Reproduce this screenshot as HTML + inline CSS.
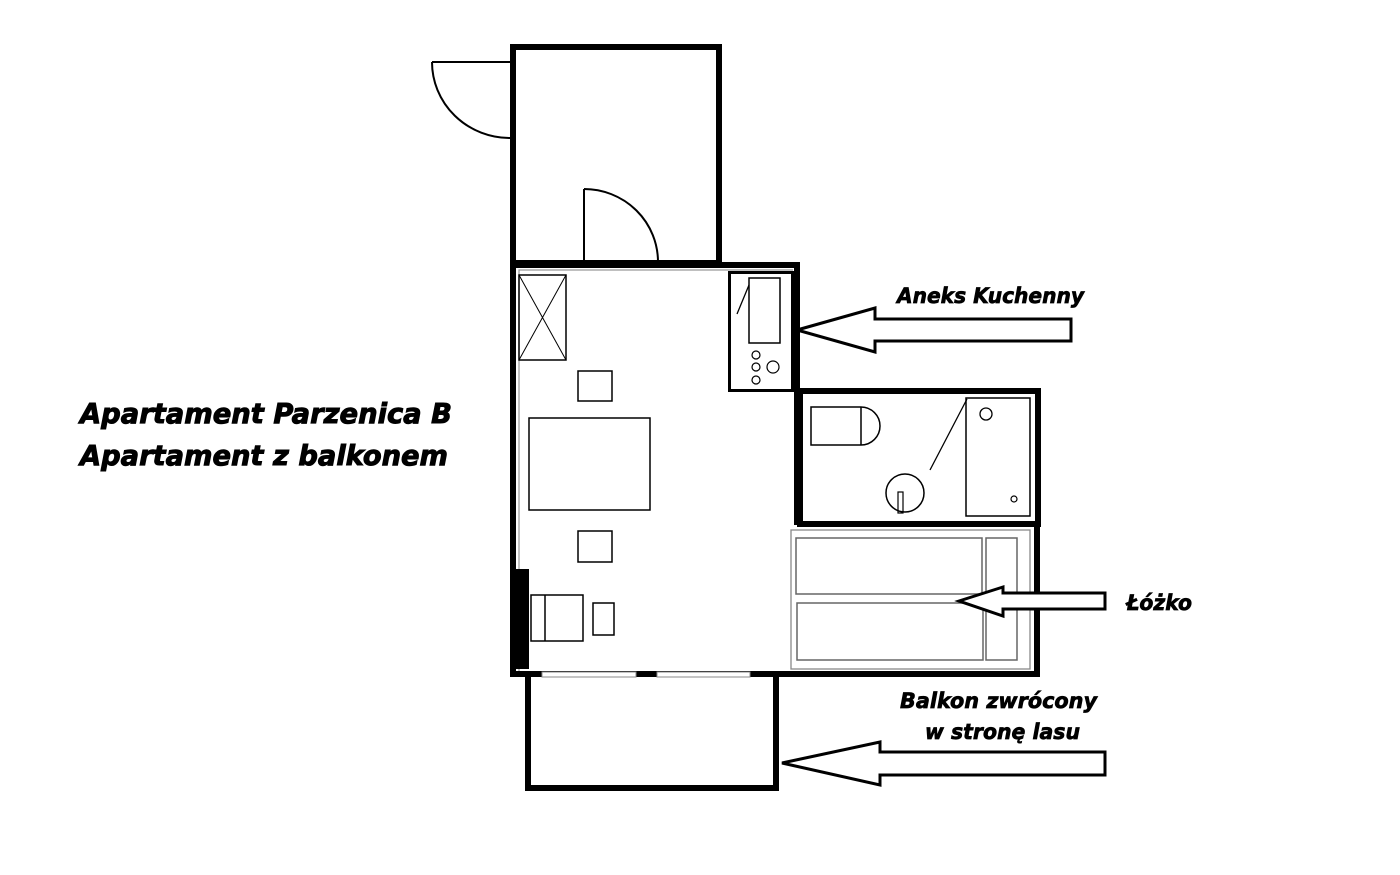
<!DOCTYPE html>
<html><head><meta charset="utf-8"><style>
html,body{margin:0;padding:0;background:#fff;}
svg{display:block;}
text{font-family:"DejaVu Sans","Liberation Sans",sans-serif;font-weight:bold;font-style:oblique;fill:#000;stroke:#000;stroke-width:0.7;}
</style></head><body>
<svg width="1400" height="875" viewBox="0 0 1400 875" xmlns="http://www.w3.org/2000/svg">
<g fill="none" stroke="#000">
<rect x="513" y="47" width="206" height="216" stroke-width="6"/>
<line x1="432" y1="62" x2="510" y2="62" stroke-width="2"/>
<path d="M432 62 A78 76 0 0 0 510 138" stroke-width="2"/>
<line x1="584" y1="189" x2="584" y2="262" stroke-width="2"/>
<path d="M584 189 A74 73 0 0 1 658 262" stroke-width="2"/>
<path d="M513 265 H797 V525" stroke-width="6"/>
<path d="M513 265 V674 H1037 V525" stroke-width="6"/>
<rect x="800" y="391" width="238" height="133" stroke-width="6"/>
<path d="M519 671 V270 H793" stroke="#999" stroke-width="1.2"/>
<rect x="542" y="672" width="94" height="5" fill="#fff" stroke="#888" stroke-width="1"/>
<rect x="657" y="672" width="93" height="5" fill="#fff" stroke="#888" stroke-width="1"/>
<rect x="729.5" y="272.5" width="63" height="118" stroke-width="3"/>
<rect x="749" y="278" width="31" height="65" stroke-width="1.5"/>
<line x1="749" y1="285" x2="737" y2="314" stroke-width="1.3"/>
<circle cx="756" cy="355" r="4" stroke-width="1.2"/>
<circle cx="756" cy="367" r="4" stroke-width="1.2"/>
<circle cx="756" cy="380" r="4" stroke-width="1.2"/>
<circle cx="773" cy="367" r="6" stroke-width="1.2"/>
<rect x="519" y="275" width="47" height="85" stroke-width="1.5"/>
<path d="M519 275 L566 360 M566 275 L519 360" stroke-width="1"/>
<rect x="578" y="371" width="34" height="30" stroke-width="1.5"/>
<rect x="529" y="418" width="121" height="92" stroke-width="1.5"/>
<rect x="578" y="531" width="34" height="31" stroke-width="1.5"/>
<rect x="531" y="595" width="52" height="46" stroke-width="1.5"/>
<line x1="545" y1="595" x2="545" y2="641" stroke-width="1.5"/>
<rect x="593" y="603" width="21" height="32" stroke-width="1.5"/>
<rect x="516" y="569" width="13" height="100" fill="#000" stroke="none"/>
<path d="M861 407 H811 V445 H861 A19 19 0 0 0 861 407 Z" stroke-width="1.5"/>
<line x1="861" y1="407" x2="861" y2="445" stroke-width="1.5"/>
<rect x="966" y="398" width="64" height="118" stroke-width="1.5"/>
<line x1="967" y1="399" x2="930" y2="470" stroke-width="1.3"/>
<circle cx="986" cy="414" r="6" stroke-width="1.3"/>
<circle cx="1014" cy="499" r="3" stroke-width="1.2"/>
<circle cx="905" cy="493" r="19" stroke-width="1.5"/>
<rect x="898" y="492" width="5" height="21" stroke-width="1.2"/>
<rect x="791" y="530" width="239" height="139" stroke="#888" stroke-width="1.3"/>
<rect x="796" y="538" width="186" height="56" stroke="#666" stroke-width="1.5"/>
<rect x="797" y="603" width="186" height="57" stroke="#666" stroke-width="1.5"/>
<rect x="986" y="538" width="31" height="122" stroke="#666" stroke-width="1.5"/>
<path d="M528 677 V788 H776 V677" stroke-width="6"/>
<path d="M797 330 L875 308 V319 H1071 V341 H875 V352 Z" fill="#fff" stroke-width="3"/>
<path d="M959 601 L1003 587 V593 H1105 V609 H1003 V616 Z" fill="#fff" stroke-width="3"/>
<path d="M782 763 L880 742 V752 H1105 V775 H880 V785 Z" fill="#fff" stroke-width="3"/>
</g>
<text x="80" y="423" font-size="28" textLength="372" lengthAdjust="spacingAndGlyphs" style="stroke-width:1">Apartament Parzenica B</text>
<text x="80" y="465" font-size="28" textLength="368" lengthAdjust="spacingAndGlyphs" style="stroke-width:1">Apartament z balkonem</text>
<text x="897" y="303" font-size="21" textLength="187" lengthAdjust="spacingAndGlyphs">Aneks Kuchenny</text>
<text x="1126" y="610" font-size="21" textLength="66" lengthAdjust="spacingAndGlyphs">Łóżko</text>
<text x="900" y="708" font-size="21" textLength="197" lengthAdjust="spacingAndGlyphs">Balkon zwrócony</text>
<text x="925" y="739" font-size="21" textLength="155" lengthAdjust="spacingAndGlyphs">w stronę lasu</text>
</svg>
</body></html>
